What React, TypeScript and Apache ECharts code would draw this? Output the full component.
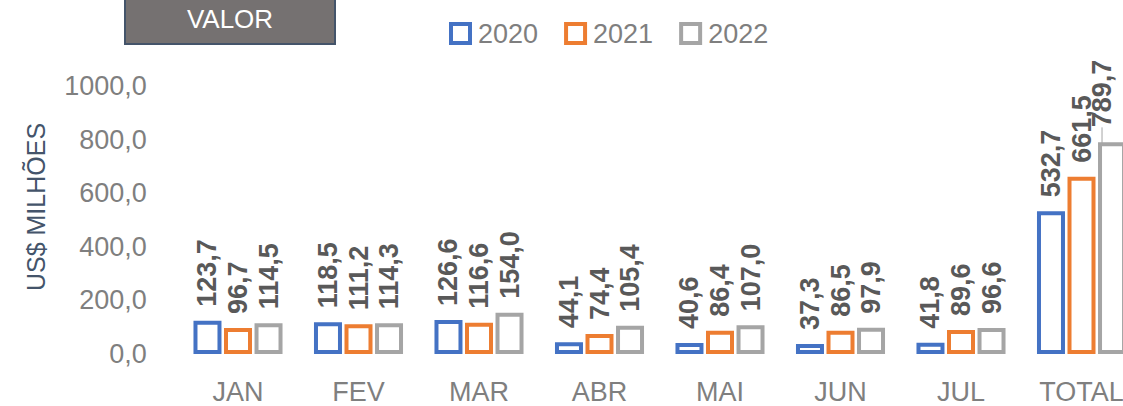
import React, { useEffect, useRef } from "react";
import * as echarts from "echarts";

const categories = ["JAN", "FEV", "MAR", "ABR", "MAI", "JUN", "JUL", "TOTAL"];
const seriesNames = ["2020", "2021", "2022"];
const values2020 = [123.7, 118.5, 126.6, 44.1, 40.6, 37.3, 41.8, 532.7];
const values2021 = [96.7, 111.2, 116.6, 74.4, 86.4, 86.5, 89.6, 661.5];
const values2022 = [114.5, 114.3, 154.0, 105.4, 107.0, 97.9, 96.6, 789.7];
const colors = ["#4472C4", "#ED7D31", "#A5A5A5"];

const FONT = "'Liberation Sans', Arial, sans-serif";
const fmt = (v: number) => v.toFixed(1).replace(".", ",");

export default function App() {
  const ref = useRef<HTMLDivElement>(null);
  useEffect(() => {
    if (!ref.current) return;
    const chart = echarts.init(ref.current, undefined, { renderer: "svg" });
    const allValues = [values2020, values2021, values2022];
    const series = allValues.map((vals, i) => ({
      name: seriesNames[i],
      type: "bar",
      data: vals.map((v, j) =>
        i === 2 && j === 7
          ? {
              value: v,
              labelLine: { show: true, lineStyle: { color: "#A5A5A5", width: 1 } },
            }
          : v
      ),
      barWidth: 28,
      barGap: "9%",
      itemStyle: { color: "#ffffff", borderColor: colors[i], borderWidth: 4 },
      label: {
        show: true,
        position: "top",
        rotate: 90,
        align: "left",
        verticalAlign: "middle",
        distance: 14,
        fontFamily: FONT,
        fontSize: 27,
        fontWeight: "bold",
        color: "#595959",
        formatter: (p: any) => fmt(p.value),
      },
      labelLayout:
        i === 2
          ? (p: any) => (p.dataIndex === 7 ? { dx: 1, dy: -10 } : undefined)
          : undefined,
    }));
    chart.setOption({
      animation: false,
      textStyle: { fontFamily: FONT },
      grid: {
        left: 177.75,
        right: -18.75,
        top: 86,
        bottom: 52,
        containLabel: false,
        outerBoundsMode: "none",
      },
      legend: {
        left: 444,
        top: 15,
        itemWidth: 19,
        itemHeight: 19,
        itemGap: 26,
        icon: "rect",
        textStyle: {
          fontFamily: FONT,
          fontSize: 27,
          color: "#7F7F7F",
          padding: [0, 0, 0, 3],
        },
        data: seriesNames.map((n, i) => ({
          name: n,
          itemStyle: { color: "#ffffff", borderColor: colors[i], borderWidth: 4 },
        })),
      },
      xAxis: {
        type: "category",
        data: categories,
        axisLine: { show: false },
        axisTick: { show: false },
        axisLabel: {
          fontFamily: FONT,
          fontSize: 27,
          lineHeight: 26,
          color: "#7F7F7F",
          margin: 25,
        },
      },
      yAxis: {
        type: "value",
        min: 0,
        max: 1000,
        interval: 200,
        splitLine: { show: false },
        axisLine: { show: false },
        axisTick: { show: false },
        axisLabel: {
          fontFamily: FONT,
          fontSize: 27,
          color: "#7F7F7F",
          margin: 31,
          formatter: (v: number) => fmt(v),
        },
      },
      graphic: [
        {
          type: "rect",
          shape: { x: 125, y: -5, width: 210, height: 49 },
          style: { fill: "#757171", stroke: "#44546A", lineWidth: 2 },
        },
        {
          type: "text",
          x: 230,
          y: 19,
          style: {
            text: "VALOR",
            fill: "#ffffff",
            font: `26px ${FONT}`,
            align: "center",
            verticalAlign: "middle",
          },
        },
        {
          type: "text",
          x: 36,
          y: 207,
          rotation: Math.PI / 2,
          style: {
            text: "US$ MILHÕES",
            fill: "#44546A",
            font: `25px ${FONT}`,
            align: "center",
            verticalAlign: "middle",
          },
        },
      ],
      series,
    });
    return () => chart.dispose();
  }, []);
  return (
    <div
      ref={ref}
      style={{ position: "absolute", left: 0, top: 0, width: 1123, height: 406 }}
    />
  );
}
